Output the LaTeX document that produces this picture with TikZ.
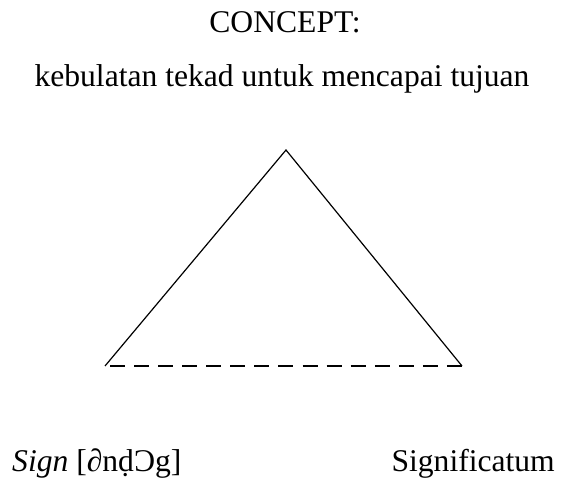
\documentclass[tikz,border=0pt]{standalone}
\usepackage{fontspec}
\setmainfont{Liberation Serif}
\begin{document}
\begin{tikzpicture}[x=1pt,y=-1pt,
  label/.style={inner sep=0pt,font=\fontsize{31.6}{38}\selectfont},
  side/.style={line width=1.2pt,line join=miter},
  base/.style={line width=1.2pt,dash pattern=on 15pt off 9.07pt,dash phase=19.07pt}]
\useasboundingbox (0,0) rectangle (563,484);
% headings
\node[label,anchor=base] (concept) at (285,33) {CONCEPT:};
\node[label,anchor=base] (gloss) at (282,87) {kebulatan tekad untuk mencapai tujuan};
% triangle corners
\coordinate (apex) at (286,150);
\coordinate (left) at (105,366);
\coordinate (right) at (462,366);
\draw[side] (left) -- (apex) -- (right);
\draw[base] (left) -- (right);
% bottom labels
\node[label,anchor=base west] (sign) at (12,471) {\textit{Sign} [∂nḍƆg]};
\node[label,anchor=base east] (signif) at (555,471) {Significatum};
\end{tikzpicture}
\end{document}
